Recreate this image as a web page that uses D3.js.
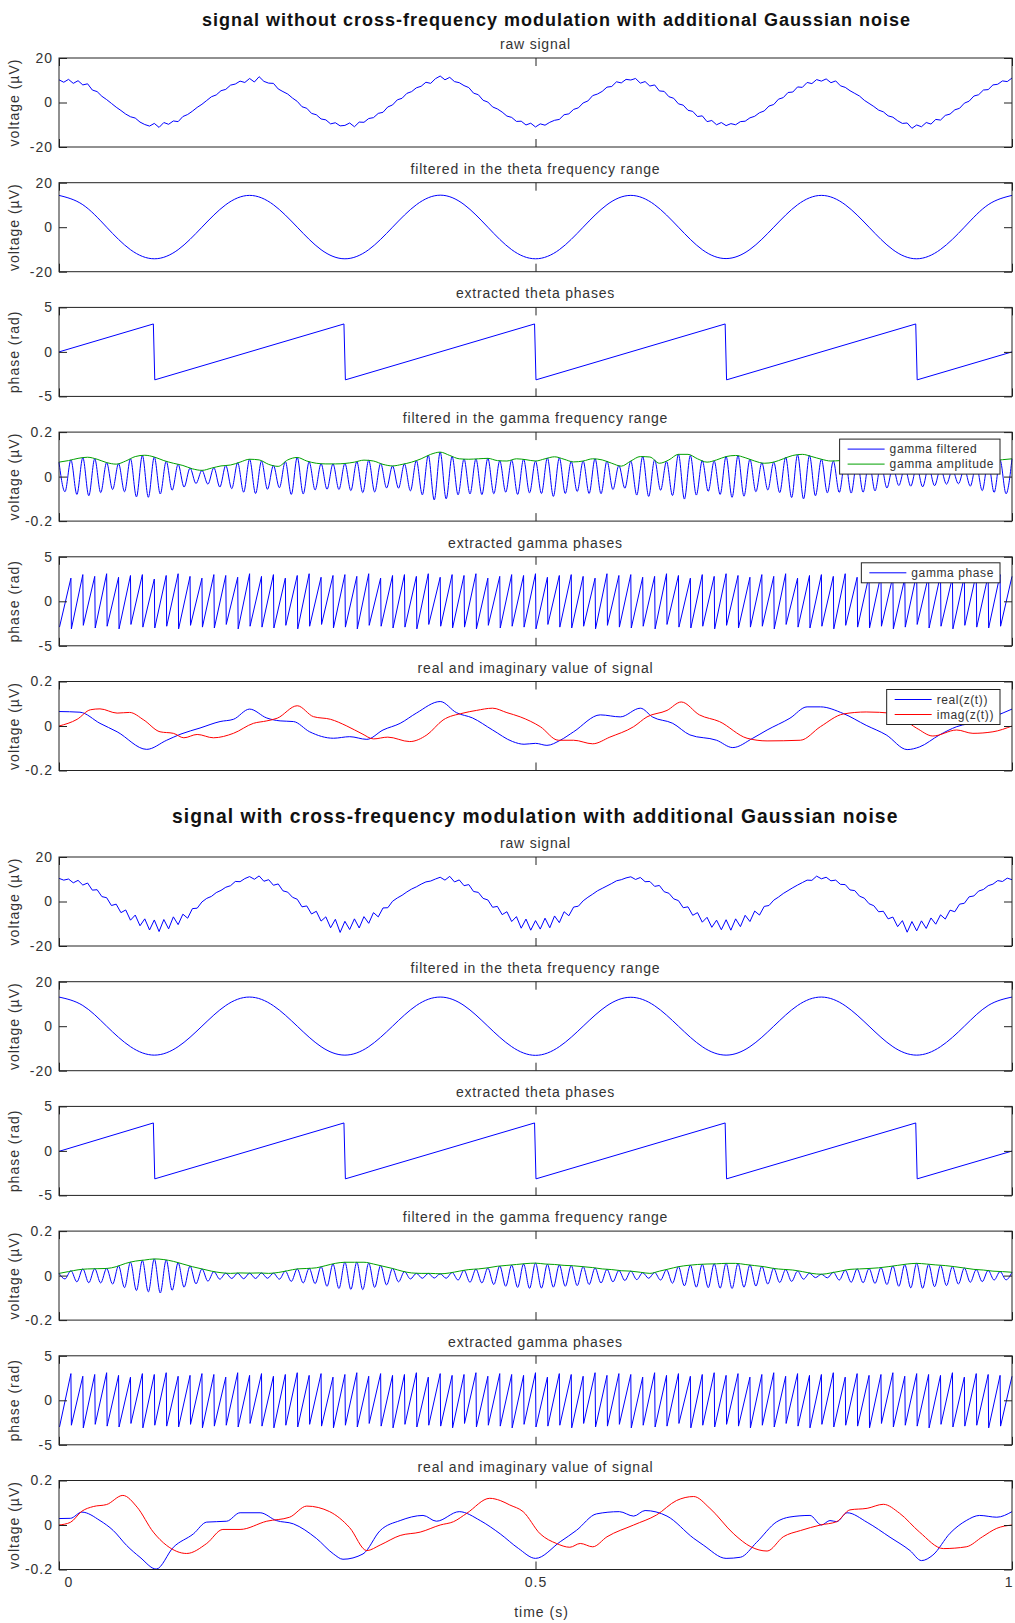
<!DOCTYPE html>
<html>
<head>
<meta charset="utf-8">
<script src="https://cdn.jsdelivr.net/npm/d3@7"></script>
<style>
body { margin: 0; background: #fff; }
text { font-family: "Liberation Sans", Arial, sans-serif; fill: #333; }
</style>
</head>
<body>
<div id="chart"></div>
<script>
// TEXTS
const groupTitles = ['signal without cross-frequency modulation with additional Gaussian noise',
                     'signal with cross-frequency modulation with additional Gaussian noise'];
const panelTitles = ['raw signal', 'filtered in the theta frequency range', 'extracted theta phases',
                     'filtered in the gamma frequency range', 'extracted gamma phases', 'real and imaginary value of signal'];
const yLabels = ['voltage (µV)', 'voltage (µV)', 'phase (rad)', 'voltage (µV)', 'phase (rad)', 'voltage (µV)'];
const yTicks = [[-20, 0, 20], [-20, 0, 20], [-5, 0, 5], [-0.2, 0, 0.2], [-5, 0, 5], [-0.2, 0, 0.2]];
const xTicks = [0, 0.5, 1];
const xLabel = 'time (s)';
const legendGamma = ['gamma filtered', 'gamma amplitude'];
const legendPhase = ['gamma phase'];
const legendComplex = ['real(z(t))', 'imag(z(t))'];

// RAW SIGNALS (every 5 ms)
const raw1 = [10.2, 9.1, 10.4, 8.6, 9.8, 7.9, 8.4, 5.6, 4.9, 2.8, 1.3, -0.4, -2.1, -3.6, -5.2, -6.4, -7.0, -8.8, -9.9, -10.6, -9.4, -11.2, -9.0, -9.8, -8.3, -8.6, -6.3, -5.4, -3.9, -2.2, -0.8, 0.9, 2.6, 3.4, 5.3, 5.9, 7.8, 8.3, 9.6, 9.0,
  10.8, 9.2, 11.6, 9.5, 8.7, 8.6, 6.1, 4.9, 3.8, 2.0, 0.5, -1.9, -2.6, -4.9, -5.5, -7.4, -7.8, -9.6, -9.1, -10.5, -10.3, -9.2, -10.9, -8.8, -8.9, -7.2, -6.8, -4.9, -4.4, -2.0, -1.1, 1.2, 1.9, 4.1, 4.9, 6.6, 7.3, 9.1, 8.6, 10.7,
  11.9, 10.2, 11.3, 9.4, 8.9, 7.6, 6.7, 4.2, 3.5, 1.0, 0.2, -2.0, -2.9, -4.3, -6.1, -6.7, -8.5, -8.4, -10.1, -9.3, -11.0, -9.6, -10.2, -8.9, -8.0, -7.6, -5.5, -5.1, -3.1, -2.4, -0.2, 0.7, 3.1, 3.8, 5.0, 6.9, 7.2, 9.3, 8.8, 10.4,
  10.1, 10.8, 8.7, 9.4, 7.4, 7.9, 5.2, 5.0, 2.6, 1.9, -0.6, -1.2, -3.5, -4.0, -6.3, -6.0, -8.6, -8.1, -10.0, -9.0, -10.4, -9.5, -10.0, -8.6, -8.4, -6.9, -6.2, -4.6, -3.8, -1.6, -0.9, 1.5, 2.2, 4.5, 4.7, 7.0, 6.8, 9.0, 8.5, 10.3,
  9.6, 10.6, 8.9, 9.7, 7.5, 6.8, 5.3, 4.1, 2.9, 1.0, -0.4, -1.8, -3.4, -4.2, -6.0, -6.6, -8.2, -9.4, -9.2, -11.6, -10.1, -10.9, -9.0, -9.7, -7.6, -7.9, -5.8, -5.2, -3.3, -2.6, -0.3, 0.6, 2.9, 3.5, 5.6, 5.8, 7.9, 8.2, 9.7, 9.4,
  11.0];
const raw2 = [10.4, 9.6, 10.1, 8.4, 9.5, 7.4, 8.3, 5.1, 5.3, 2.2, 1.7, -1.8, -1.2, -5.0, -3.8, -8.4, -6.1, -10.9, -7.8, -12.8, -8.3, -13.5, -8.1, -12.3, -6.9, -10.4, -5.7, -7.5, -3.2, -3.0, -0.2, 1.4, 2.3, 4.0, 5.0, 6.4, 7.1, 9.0, 8.9, 10.3,
  11.2, 10.0, 11.5, 9.1, 9.8, 7.3, 7.9, 4.8, 4.2, 1.9, 1.0, -2.4, -2.0, -5.6, -4.4, -8.8, -6.9, -11.8, -8.0, -13.9, -8.9, -12.6, -7.8, -11.9, -6.8, -9.8, -5.0, -6.9, -2.9, -2.8, 0.1, 1.6, 2.8, 4.3, 5.6, 6.6, 7.8, 8.8, 9.2, 10.1,
  10.9, 9.6, 11.3, 8.8, 9.7, 7.1, 7.6, 4.5, 4.1, 1.4, 0.7, -2.6, -2.2, -5.9, -4.6, -9.0, -6.8, -12.0, -7.9, -12.9, -8.6, -12.4, -7.5, -11.8, -6.5, -9.5, -4.6, -6.4, -2.5, -2.1, 0.3, 1.9, 3.3, 4.8, 5.9, 7.0, 8.1, 9.3, 9.8, 10.6,
  11.1, 9.9, 10.8, 8.9, 9.0, 6.8, 7.2, 4.4, 3.7, 1.2, 0.4, -2.8, -2.4, -6.2, -5.0, -9.3, -7.1, -11.6, -8.4, -12.7, -8.2, -12.9, -7.8, -11.3, -6.2, -9.0, -4.3, -6.1, -2.2, -1.8, 0.6, 2.0, 3.6, 4.9, 6.2, 7.4, 8.5, 9.6, 9.5, 11.4,
  10.2, 10.9, 9.3, 9.6, 7.7, 7.6, 5.2, 4.9, 2.4, 1.5, -1.0, -1.9, -4.6, -4.4, -7.8, -7.0, -11.3, -8.6, -13.8, -9.0, -13.2, -8.7, -12.1, -7.4, -10.2, -6.0, -7.9, -3.9, -4.6, -1.2, -0.8, 2.1, 2.5, 4.7, 5.4, 7.1, 7.8, 9.4, 9.0, 10.5,
  9.8];

// THETA FILTERED (every 25 ms)
const theta1 = [14.3, 10.1, 0, -10.1, -14.2, -10.1, 0, 10.1, 14.3, 10.1, 0, -10.1, -14.2, -10.1, 0, 10.1, 14.4, 10.2, 0, -10.1, -14.2,
  -10.1, 0, 10.1, 14.3, 10.1, 0, -10.1, -14.1, -10.0, 0, 10.1, 14.3, 10.1, 0, -10.1, -14.2, -10.0, 0, 10.1, 14.3];
const theta2 = [13.1, 9.3, 0, -9.2, -13.0, -9.2, 0, 9.3, 13.1, 9.2, 0, -9.2, -13.0, -9.2, 0, 9.3, 13.1, 9.3, 0, -9.2, -13.1,
  -9.2, 0, 9.2, 13.0, 9.2, 0, -9.2, -13.0, -9.2, 0, 9.3, 13.1, 9.2, 0, -9.2, -13.0, -9.2, 0, 9.3, 13.1];

// THETA PHASE (wrap points)
const thetaPhaseT = [0, 0.099, 0.1005, 0.299, 0.3005, 0.499, 0.5005, 0.699, 0.7005, 0.899, 0.9005, 1];
const thetaPhase1 = [0.0, 3.14, -3.14, 3.14, -3.14, 3.14, -3.14, 3.14, -3.14, 3.14, -3.14, 0.0];
const thetaPhase2 = [-0.05, 3.14, -3.14, 3.14, -3.14, 3.14, -3.14, 3.14, -3.14, 3.14, -3.14, -0.02];

// GAMMA FILTERED (peaks and troughs, every 6.25 ms)
const gamma1 = [0.065, -0.068, 0.075, -0.08, 0.085, -0.086, 0.08, -0.072, 0.063, -0.058, 0.058, -0.068, 0.08, -0.091, 0.095, -0.093, 0.088, -0.078, 0.069, -0.061,
  0.055, -0.047, 0.038, -0.031, 0.028, -0.034, 0.04, -0.047, 0.05, -0.054, 0.062, -0.07, 0.078, -0.076, 0.07, -0.057, 0.05, -0.05, 0.068, -0.08,
  0.086, -0.078, 0.066, -0.06, 0.058, -0.057, 0.057, -0.058, 0.059, -0.063, 0.067, -0.072, 0.073, -0.069, 0.059, -0.051, 0.048, -0.052, 0.057, -0.064,
  0.072, -0.082, 0.096, -0.105, 0.11, -0.1, 0.09, -0.082, 0.079, -0.078, 0.079, -0.081, 0.082, -0.077, 0.071, -0.07, 0.074, -0.08, 0.078, -0.073,
  0.07, -0.076, 0.084, -0.089, 0.084, -0.076, 0.068, -0.067, 0.07, -0.076, 0.08, -0.077, 0.07, -0.058, 0.05, -0.052, 0.07, -0.083, 0.09, -0.089,
  0.075, -0.061, 0.068, -0.085, 0.1, -0.101, 0.095, -0.083, 0.072, -0.066, 0.07, -0.08, 0.09, -0.093, 0.094, -0.088, 0.078, -0.068, 0.062, -0.06,
  0.065, -0.072, 0.087, -0.094, 0.098, -0.1, 0.095, -0.086, 0.078, -0.073, 0.07, -0.071, 0.074, -0.074, 0.072, -0.07, 0.068, -0.064, 0.057, -0.051,
  0.045, -0.04, 0.041, -0.043, 0.045, -0.046, 0.044, -0.041, 0.037, -0.034, 0.031, -0.032, 0.035, -0.043, 0.055, -0.063, 0.068, -0.071, 0.073, -0.077,
  0.08];
const gamma2 = [0.01, -0.015, 0.022, -0.028, 0.03, -0.032, 0.031, -0.033, 0.032, -0.038, 0.044, -0.054, 0.06, -0.067, 0.068, -0.073, 0.075, -0.078, 0.07, -0.066,
  0.058, -0.052, 0.043, -0.037, 0.03, -0.025, 0.018, -0.016, 0.011, -0.013, 0.011, -0.014, 0.011, -0.013, 0.012, -0.012, 0.011, -0.016, 0.02, -0.026,
  0.03, -0.033, 0.033, -0.036, 0.04, -0.048, 0.052, -0.058, 0.06, -0.062, 0.06, -0.063, 0.056, -0.053, 0.045, -0.042, 0.032, -0.028, 0.018, -0.015,
  0.01, -0.012, 0.01, -0.011, 0.008, -0.012, 0.014, -0.02, 0.024, -0.03, 0.029, -0.033, 0.034, -0.04, 0.043, -0.048, 0.047, -0.053, 0.052, -0.057,
  0.056, -0.056, 0.051, -0.052, 0.048, -0.048, 0.045, -0.045, 0.04, -0.04, 0.034, -0.033, 0.028, -0.028, 0.023, -0.022, 0.02, -0.018, 0.013, -0.012,
  0.014, -0.02, 0.026, -0.034, 0.04, -0.046, 0.047, -0.052, 0.051, -0.054, 0.053, -0.056, 0.055, -0.058, 0.054, -0.052, 0.048, -0.047, 0.042, -0.038,
  0.033, -0.031, 0.027, -0.026, 0.02, -0.016, 0.011, -0.009, 0.006, -0.01, 0.015, -0.02, 0.024, -0.03, 0.03, -0.032, 0.032, -0.035, 0.036, -0.04,
  0.043, -0.048, 0.049, -0.055, 0.055, -0.057, 0.05, -0.05, 0.046, -0.045, 0.04, -0.038, 0.034, -0.03, 0.027, -0.027, 0.023, -0.02, 0.018, -0.019,
  0.015];

// GAMMA AMPLITUDE (every 10 ms)
const env1 = [0.065, 0.072, 0.082, 0.087, 0.078, 0.063, 0.056, 0.07, 0.09, 0.096, 0.088, 0.072, 0.06, 0.05, 0.035, 0.028, 0.038, 0.048, 0.052, 0.065,
  0.078, 0.075, 0.055, 0.046, 0.075, 0.086, 0.07, 0.06, 0.057, 0.057, 0.059, 0.065, 0.074, 0.07, 0.055, 0.048, 0.055, 0.065, 0.08, 0.1,
  0.11, 0.095, 0.08, 0.078, 0.08, 0.082, 0.072, 0.07, 0.08, 0.076, 0.07, 0.08, 0.089, 0.078, 0.066, 0.07, 0.08, 0.075, 0.06, 0.047,
  0.07, 0.09, 0.088, 0.06, 0.075, 0.1, 0.1, 0.08, 0.065, 0.075, 0.09, 0.095, 0.085, 0.07, 0.06, 0.065, 0.08, 0.095, 0.1, 0.09,
  0.078, 0.07, 0.072, 0.075, 0.07, 0.068, 0.06, 0.05, 0.04, 0.042, 0.045, 0.042, 0.04, 0.035, 0.03, 0.035, 0.05, 0.065, 0.07, 0.076,
  0.08];
const env2 = [0.01, 0.018, 0.026, 0.03, 0.031, 0.032, 0.04, 0.055, 0.065, 0.07, 0.075, 0.072, 0.064, 0.052, 0.04, 0.03, 0.02, 0.013, 0.01, 0.012,
  0.011, 0.012, 0.01, 0.014, 0.022, 0.03, 0.032, 0.035, 0.045, 0.055, 0.06, 0.06, 0.06, 0.052, 0.042, 0.032, 0.02, 0.012, 0.01, 0.01,
  0.008, 0.012, 0.02, 0.027, 0.03, 0.035, 0.042, 0.046, 0.05, 0.054, 0.056, 0.052, 0.05, 0.046, 0.044, 0.04, 0.036, 0.03, 0.027, 0.022,
  0.02, 0.015, 0.01, 0.02, 0.03, 0.04, 0.046, 0.05, 0.052, 0.053, 0.055, 0.055, 0.05, 0.045, 0.04, 0.032, 0.028, 0.025, 0.018, 0.01,
  0.006, 0.012, 0.02, 0.028, 0.03, 0.032, 0.035, 0.04, 0.046, 0.052, 0.055, 0.052, 0.048, 0.045, 0.04, 0.034, 0.028, 0.025, 0.02, 0.018,
  0.015];

// GAMMA PHASE (first and last value of each cycle)
const phaseLow1 = [-2.9, -3.1, -2.7, -3.0, -2.8, -3.1, -2.6, -2.9, -3.0, -2.8, -3.1, -2.7, -2.9, -3.0, -2.6, -3.1, -2.8, -2.9, -3.0, -2.7,
  -3.1, -2.8, -2.6, -3.0, -2.9, -3.1, -2.7, -2.8, -3.0, -2.9, -3.1, -2.6, -2.8, -3.0, -2.9, -3.1, -2.7, -3.0, -2.8, -2.9,
  -3.1, -2.6, -2.9, -3.0, -2.8, -3.1, -2.7, -2.9, -3.0, -2.8, -3.1, -2.6, -2.9, -3.0, -2.8, -3.1, -2.7, -3.0, -2.9, -2.8,
  -3.1, -2.6, -2.9, -3.0, -2.8, -3.1, -2.7, -2.9, -3.0, -2.8, -3.1, -2.9, -2.6, -3.0, -2.8, -3.1, -2.7, -2.9, -3.0, -2.8];
const phaseHigh1 = [2.6, 3.0, 2.8, 3.1, 2.7, 2.9, 3.0, 2.5, 2.9, 3.1, 2.8, 2.6, 3.0, 2.9, 2.7, 3.1, 2.8, 3.0, 2.6, 2.9,
  3.1, 2.7, 2.9, 3.0, 2.8, 3.1, 2.6, 2.9, 3.0, 2.8, 3.1, 2.7, 3.0, 2.9, 3.1, 2.6, 2.8, 3.0, 2.9, 3.1,
  2.7, 2.9, 3.0, 2.8, 2.6, 3.1, 2.9, 3.0, 2.7, 2.8, 3.1, 2.9, 2.6, 3.0, 2.8, 3.1, 2.9, 2.7, 3.0, 2.8,
  3.1, 2.6, 2.9, 3.0, 2.8, 3.1, 2.7, 2.9, 3.0, 2.8, 2.6, 3.1, 2.9, 3.0, 2.7, 2.8, 3.1, 2.9, 3.0, 2.8];
const phaseLow2 = [-3.0, -2.8, -3.1, -2.7, -2.9, -3.0, -2.6, -3.1, -2.8, -2.9, -3.0, -2.7, -3.1, -2.9, -2.8, -3.0, -2.6, -2.9, -3.1, -2.8,
  -3.0, -2.7, -2.9, -3.1, -2.8, -3.0, -2.6, -2.9, -3.1, -2.7, -3.0, -2.8, -2.9, -3.1, -2.6, -3.0, -2.8, -2.9, -3.1, -2.7,
  -3.0, -2.9, -2.8, -3.1, -2.6, -3.0, -2.9, -2.7, -3.1, -2.8, -3.0, -2.9, -2.6, -3.1, -2.8, -3.0, -2.7, -2.9, -3.1, -2.8,
  -3.0, -2.6, -2.9, -3.1, -2.7, -3.0, -2.8, -2.9, -3.1, -2.6, -3.0, -2.8, -2.9, -3.1, -2.7, -3.0, -2.9, -2.8, -3.1, -2.9];
const phaseHigh2 = [3.0, 2.7, 2.9, 3.1, 2.8, 2.6, 3.0, 2.9, 3.1, 2.7, 2.8, 3.0, 2.9, 2.6, 3.1, 2.8, 3.0, 2.7, 2.9, 3.1,
  2.8, 3.0, 2.6, 2.9, 3.1, 2.7, 3.0, 2.8, 2.9, 3.1, 2.6, 3.0, 2.8, 2.9, 3.1, 2.7, 3.0, 2.9, 2.8, 3.1,
  2.6, 3.0, 2.9, 2.7, 3.1, 2.8, 3.0, 2.9, 2.6, 3.1, 2.8, 3.0, 2.7, 2.9, 3.1, 2.8, 3.0, 2.6, 2.9, 3.1,
  2.7, 3.0, 2.8, 2.9, 3.1, 2.6, 3.0, 2.8, 2.9, 3.1, 2.7, 3.0, 2.9, 2.8, 3.1, 2.6, 3.0, 2.9, 2.8, 2.7];

// REAL AND IMAGINARY PARTS
const realT1 = [0, 0.022, 0.043, 0.061, 0.092, 0.113, 0.128, 0.148, 0.169, 0.183, 0.2, 0.218, 0.232, 0.246, 0.263, 0.288, 0.305, 0.323, 0.34, 0.358,
  0.375, 0.4, 0.417, 0.434, 0.455, 0.476, 0.488, 0.5, 0.512, 0.526, 0.54, 0.568, 0.589, 0.61, 0.623, 0.644, 0.662, 0.69, 0.707, 0.728,
  0.743, 0.767, 0.785, 0.799, 0.823, 0.847, 0.868, 0.89, 0.903, 0.924, 0.942, 0.966, 1];
const realV1 = [0.065, 0.062, 0.012, -0.026, -0.105, -0.064, -0.036, -0.009, 0.02, 0.03, 0.076, 0.036, 0.023, 0.02, -0.026, -0.055, -0.048, -0.06, -0.018, 0.012,
  0.058, 0.11, 0.06, 0.036, -0.018, -0.07, -0.082, -0.078, -0.087, -0.064, -0.026, 0.05, 0.041, 0.08, 0.04, 0.012, -0.04, -0.064, -0.097, -0.055,
  -0.018, 0.035, 0.086, 0.086, 0.056, 0.003, -0.04, -0.106, -0.094, -0.04, -0.003, 0.02, 0.076];
const imagT1 = [0, 0.019, 0.033, 0.043, 0.061, 0.074, 0.089, 0.106, 0.12, 0.131, 0.145, 0.162, 0.183, 0.204, 0.218, 0.229, 0.25, 0.267, 0.285, 0.302,
  0.318, 0.33, 0.345, 0.368, 0.386, 0.403, 0.424, 0.438, 0.455, 0.47, 0.484, 0.505, 0.524, 0.54, 0.56, 0.578, 0.603, 0.617, 0.638, 0.653,
  0.672, 0.693, 0.722, 0.743, 0.778, 0.799, 0.823, 0.847, 0.875, 0.9, 0.917, 0.942, 0.959, 0.98, 1];
const imagV1 = [0.0, 0.03, 0.073, 0.077, 0.058, 0.061, 0.027, -0.026, -0.033, -0.053, -0.038, -0.053, -0.033, 0.012, 0.023, 0.035, 0.091, 0.042, 0.03, 0.0,
  -0.035, -0.058, -0.05, -0.07, -0.04, 0.027, 0.058, 0.07, 0.08, 0.06, 0.041, -0.003, -0.064, -0.064, -0.08, -0.05, -0.003, 0.041, 0.07, 0.108,
  0.05, 0.02, -0.055, -0.067, -0.064, -0.003, 0.054, 0.063, 0.057, -0.01, -0.045, -0.018, -0.033, -0.026, 0.0];
const realT2 = [0, 0.012, 0.024, 0.043, 0.057, 0.071, 0.085, 0.102, 0.12, 0.141, 0.155, 0.176, 0.19, 0.211, 0.228, 0.246, 0.27, 0.288, 0.298, 0.319,
  0.337, 0.358, 0.382, 0.396, 0.42, 0.442, 0.463, 0.482, 0.5, 0.526, 0.543, 0.564, 0.588, 0.603, 0.615, 0.638, 0.666, 0.676, 0.7, 0.715,
  0.732, 0.753, 0.767, 0.788, 0.8, 0.809, 0.816, 0.827, 0.848, 0.872, 0.893, 0.905, 0.917, 0.935, 0.952, 0.966, 0.984, 1];
const realV2 = [0.029, 0.03, 0.058, 0.02, -0.025, -0.092, -0.145, -0.198, -0.1, -0.04, 0.013, 0.017, 0.055, 0.055, 0.02, 0.005, -0.06, -0.13, -0.154, -0.13,
  -0.025, 0.02, 0.043, 0.017, 0.06, 0.02, -0.04, -0.105, -0.15, -0.075, -0.024, 0.05, 0.06, 0.04, 0.065, 0.04, -0.06, -0.09, -0.15, -0.145,
  -0.078, 0.014, 0.036, 0.043, 0.0, 0.02, 0.015, 0.055, 0.012, -0.055, -0.115, -0.16, -0.135, -0.037, 0.02, 0.043, 0.035, 0.06];
const imagT2 = [0, 0.012, 0.024, 0.036, 0.05, 0.067, 0.082, 0.099, 0.113, 0.134, 0.155, 0.172, 0.19, 0.218, 0.242, 0.26, 0.284, 0.305, 0.323, 0.337,
  0.358, 0.379, 0.4, 0.414, 0.428, 0.452, 0.463, 0.473, 0.487, 0.505, 0.522, 0.536, 0.547, 0.56, 0.575, 0.603, 0.627, 0.648, 0.666, 0.683,
  0.708, 0.726, 0.743, 0.76, 0.778, 0.799, 0.816, 0.83, 0.848, 0.865, 0.882, 0.903, 0.928, 0.952, 0.969, 0.984, 1];
const imagV2 = [0, 0.012, 0.062, 0.083, 0.092, 0.133, 0.08, -0.032, -0.092, -0.128, -0.083, -0.02, -0.02, 0.017, 0.035, 0.085, 0.06, -0.012, -0.115, -0.09,
  -0.047, -0.032, 0, 0.015, 0.053, 0.12, 0.11, 0.09, 0.06, -0.04, -0.083, -0.1, -0.083, -0.098, -0.053, 0, 0.045, 0.11, 0.128, 0.075,
  -0.04, -0.098, -0.117, -0.053, -0.025, 0, 0.015, 0.068, 0.075, 0.093, 0.053, -0.032, -0.106, -0.098, -0.053, -0.015, 0];

// COLOURS
const BLUE = '#0000ff', GREEN = '#00a000', RED = '#ff0000';

// DIMENSIONS
const width = 1015, height = 1623;
const left = 59, right = 1012, plotH = 89, step = 124.7;
const groupTop = [58, 857];
const titleY = [26, 823];
const titleX = [202, 172];
const titleSize = [18, 19.3];

const svg = d3.select('#chart').append('svg')
    .attr('width', width)
    .attr('height', height);

const x = d3.scaleLinear().domain([0, 1]).range([left, right]);

// POINT HELPERS
const evenly = vals => vals.map((v, i) => [i / (vals.length - 1), v]);
const paired = (ts, vs) => ts.map((t, i) => [t, vs[i]]);
const sawtooth = (lows, highs) => {
    const n = lows.length, pts = [];
    lows.forEach((lo, c) => {
        pts.push([(c + 0.04) / n, lo]);
        pts.push([(c + 1) / n, highs[c]]);
    });
    return pts;
};

// PANEL SERIES PER GROUP
const groups = [
    [
        {series: [{pts: evenly(raw1), color: BLUE}]},
        {series: [{pts: evenly(theta1), color: BLUE, curve: d3.curveNatural}]},
        {series: [{pts: paired(thetaPhaseT, thetaPhase1), color: BLUE}]},
        {series: [{pts: evenly(gamma1), color: BLUE, curve: d3.curveMonotoneX}, {pts: evenly(env1), color: GREEN, curve: d3.curveMonotoneX}],
         legend: {names: legendGamma, colors: [BLUE, GREEN], dy: 7}},
        {series: [{pts: sawtooth(phaseLow1, phaseHigh1), color: BLUE}],
         legend: {names: legendPhase, colors: [BLUE], dy: 6}},
        {series: [{pts: paired(realT1, realV1), color: BLUE, curve: d3.curveMonotoneX}, {pts: paired(imagT1, imagV1), color: RED, curve: d3.curveMonotoneX}],
         legend: {names: legendComplex, colors: [BLUE, RED], dy: 8}}
    ],
    [
        {series: [{pts: evenly(raw2), color: BLUE}]},
        {series: [{pts: evenly(theta2), color: BLUE, curve: d3.curveNatural}]},
        {series: [{pts: paired(thetaPhaseT, thetaPhase2), color: BLUE}]},
        {series: [{pts: evenly(gamma2), color: BLUE, curve: d3.curveMonotoneX}, {pts: evenly(env2), color: GREEN, curve: d3.curveMonotoneX}]},
        {series: [{pts: sawtooth(phaseLow2, phaseHigh2), color: BLUE}]},
        {series: [{pts: paired(realT2, realV2), color: BLUE, curve: d3.curveMonotoneX}, {pts: paired(imagT2, imagV2), color: RED, curve: d3.curveMonotoneX}]}
    ]
];

// DRAW
groups.forEach((panels, g) => {

    svg.append('text')
        .text(groupTitles[g])
        .attr('x', titleX[g])
        .attr('y', titleY[g])
        .style('font-size', titleSize[g] + 'px')
        .style('font-weight', 'bold')
        .style('letter-spacing', (titleSize[g] / 18) + 'px')
        .style('fill', '#111');

    panels.forEach((p, i) => {
        const top = groupTop[g] + step * i;
        const bottom = top + plotH;
        const ticks = yTicks[i];
        const y = d3.scaleLinear().domain([ticks[0], ticks[2]]).range([bottom, top]);
        const last = g === 1 && i === panels.length - 1;
        const panel = svg.append('g');

        // SUBPLOT TITLE
        panel.append('text')
            .text(panelTitles[i])
            .attr('x', (left + right) / 2)
            .attr('y', top - 9)
            .attr('text-anchor', 'middle')
            .style('font-size', '14px')
            .style('letter-spacing', '0.8px');

        // Y LABEL
        panel.append('text')
            .text(yLabels[i])
            .attr('transform', `translate(14,${top + plotH / 2})rotate(-90)`)
            .attr('text-anchor', 'middle')
            .attr('dy', '0.35em')
            .style('font-size', '14px')
            .style('letter-spacing', '1px');

        // LINES
        p.series.forEach(s => {
            const line = d3.line()
                .x(d => x(d[0]))
                .y(d => y(d[1]))
                .curve(s.curve || d3.curveLinear);
            panel.append('path')
                .attr('d', line(s.pts))
                .attr('fill', 'none')
                .attr('stroke', s.color)
                .attr('stroke-width', 1);
        });

        // AXES
        const fmt = d => String(d);
        const axes = [
            [d3.axisLeft(y).tickValues(ticks).tickFormat(fmt).tickPadding(6), `translate(${left},0)`],
            [d3.axisRight(y).tickValues(ticks).tickFormat(''), `translate(${right},0)`],
            [d3.axisTop(x).tickValues(xTicks).tickFormat(''), `translate(0,${top})`],
            [d3.axisBottom(x).tickValues(xTicks).tickFormat(last ? fmt : '').tickPadding(8), `translate(0,${bottom})`]
        ];
        axes.forEach(([ax, tr], k) => {
            const a = panel.append('g')
                .attr('transform', tr)
                .call(ax.tickSizeInner(-8).tickSizeOuter(0));
            a.select('.domain').remove();
            a.selectAll('line').attr('stroke', '#222');
            a.selectAll('text')
                .style('font-size', '14px')
                .style('letter-spacing', '1px')
                .style('font-family', '"Liberation Sans", Arial, sans-serif')
                .attr('fill', '#333');
            // EDGE X LABELS KEPT INSIDE THE PAGE
            if (k === 3 && last) {
                a.selectAll('text').filter(d => d === 0).attr('text-anchor', 'start').attr('dx', '5px');
                a.selectAll('text').filter(d => d === 1).attr('text-anchor', 'end').attr('dx', '1px');
            }
        });

        // BOX
        panel.append('rect')
            .attr('x', left)
            .attr('y', top)
            .attr('width', right - left)
            .attr('height', plotH)
            .attr('fill', 'none')
            .attr('stroke', '#222')
            .attr('stroke-width', 1);

        // LEGEND
        if (p.legend) {
            const lg = panel.append('g');
            const rows = p.legend.names.length;
            const box = lg.append('rect')
                .attr('fill', '#fff')
                .attr('stroke', '#222')
                .attr('stroke-width', 1);
            let maxW = 0;
            p.legend.names.forEach((name, k) => {
                const t = lg.append('text')
                    .text(name)
                    .attr('dy', '0.35em')
                    .style('font-size', '12px')
                    .style('letter-spacing', '0.6px');
                maxW = Math.max(maxW, t.node().getComputedTextLength());
            });
            const boxW = 8 + 37 + 5 + maxW + 6;
            const boxH = 5 + rows * 15;
            const bx = right - 12 - boxW;
            const by = top + p.legend.dy;
            box.attr('x', bx).attr('y', by).attr('width', boxW).attr('height', boxH);
            lg.selectAll('text').attr('x', bx + 50).attr('y', (d, k) => by + 10 + k * 15);
            p.legend.colors.forEach((c, k) => {
                lg.append('line')
                    .attr('x1', bx + 8).attr('x2', bx + 45)
                    .attr('y1', by + 10 + k * 15).attr('y2', by + 10 + k * 15)
                    .attr('stroke', c);
            });
        }
    });
});

// X LABEL
svg.append('text')
    .text(xLabel)
    .attr('x', (left + right) / 2 + 6)
    .attr('y', 1617)
    .attr('text-anchor', 'middle')
    .style('font-size', '14px')
    .style('letter-spacing', '1px');
</script>
</body>
</html>
